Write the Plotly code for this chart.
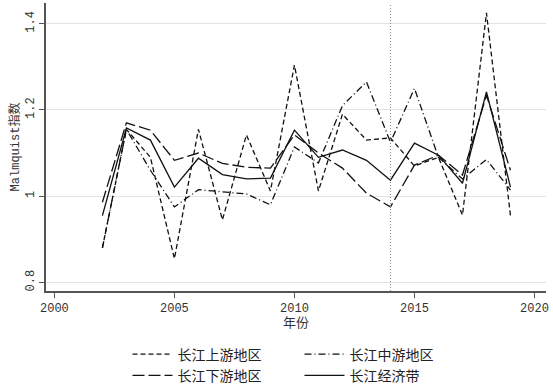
import plotly.graph_objects as go

years = list(range(2002, 2020))
upper = [0.88, 1.155, 1.09, 0.855, 1.155, 0.945, 1.142, 1.012, 1.304, 1.012, 1.19, 1.13, 1.135, 1.07, 1.09, 0.956, 1.425, 0.955]
middle = [0.88, 1.155, 1.06, 0.975, 1.015, 1.01, 1.005, 0.98, 1.114, 1.077, 1.21, 1.265, 1.125, 1.25, 1.09, 1.04, 1.085, 1.014]
lower = [0.986, 1.17, 1.153, 1.083, 1.10, 1.076, 1.067, 1.065, 1.142, 1.10, 1.065, 1.007, 0.975, 1.072, 1.095, 1.049, 1.234, 1.06]
whole = [0.955, 1.158, 1.13, 1.021, 1.088, 1.05, 1.04, 1.042, 1.153, 1.09, 1.107, 1.083, 1.037, 1.123, 1.095, 1.03, 1.242, 1.021]
names = ["长江上游地区", "长江中游地区", "长江下游地区", "长江经济带"]
dashes = ["5px,3px", "7px,3px,1px,3px", "12px,4px", "solid"]
series = [upper, middle, lower, whole]
policy_year = 2014

FONT = "Liberation Mono, Noto Sans CJK SC, sans-serif"

fig = go.Figure()
for nm, vals, d in zip(names, series, dashes):
    fig.add_trace(go.Scatter(x=years, y=vals, mode="lines", name=nm,
                             line=dict(color="#111", width=1.3, dash=d)))

fig.add_shape(type="line", x0=policy_year, x1=policy_year, y0=0, y1=1, yref="paper",
              line=dict(color="#888", width=1, dash="1px,2px"))

fig.update_layout(
    width=553, height=390,
    margin=dict(l=46, r=7, t=3, b=99, autoexpand=False),
    paper_bgcolor="white", plot_bgcolor="white",
    font=dict(family=FONT, size=12, color="#333"),
    showlegend=True,
    legend=dict(orientation="h", x=0.163, xanchor="left", y=-0.165, yanchor="top",
                entrywidth=117, font=dict(size=14, color="#222"),
                tracegroupgap=0, itemwidth=40),
    xaxis=dict(range=[1999.65, 2020.48], tickvals=[2000, 2005, 2010, 2015, 2020],
               showgrid=False, zeroline=False, showline=True, linecolor="#555", linewidth=1.5,
               ticks="outside", ticklen=5, tickcolor="#555", automargin=False,
               title=dict(text="年份", standoff=2, font=dict(size=13))),
    yaxis=dict(range=[0.78, 1.448], tickvals=[0.8, 1.0, 1.2, 1.4], ticktext=["0.8", "1", "1.2", "1.4"],
               tickangle=-90, showgrid=True, gridcolor="#e3e3e3", gridwidth=1.2, zeroline=False,
               showline=True, linecolor="#555", linewidth=1.5, automargin=False,
               ticks="outside", ticklen=5, tickcolor="#555",
               title=dict(text="Malmquist指数", standoff=2, font=dict(size=12))),
)

fig.write_html("out.html", config={"displayModeBar": False},
               post_script="document.body.style.margin='0';document.body.style.overflow='hidden';")
